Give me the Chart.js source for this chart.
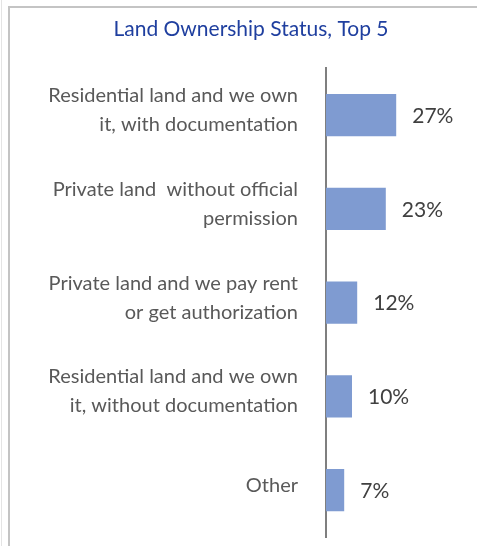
<!DOCTYPE html>
<html>
<head>
<meta charset="utf-8">
<script src="https://cdn.jsdelivr.net/npm/chart.js@4"></script>
<style>
  html, body { margin: 0; padding: 0; width: 477px; height: 546px; overflow: hidden; background: #fff; }
  #edge { position: absolute; left: 1px; top: 0; width: 1px; height: 546px; background: #e4e4e4; }
  #frame { position: absolute; left: 8px; top: 6px; width: 467px; height: 538px;
           border-left: 2px solid #c4c4c4; border-top: 2px solid #c4c4c4; }
  #frame canvas { display: block; }
</style>
</head>
<body>
<div id="edge"></div>
<div id="frame"><canvas id="landChart" width="467" height="538"></canvas></div>
<script>
// Land ownership status, top 5 answers (share of respondents, %)
const categories = [
    ['Residential land and we own', 'it, with documentation'],
    ['Private land  without official', 'permission'],
    ['Private land and we pay rent', 'or get authorization'],
    ['Residential land and we own', 'it, without documentation'],
    'Other'
];
const shares = [27, 23, 12, 10, 7];
const chartTitle = 'Land Ownership Status, Top 5';

// draw the "27%" style labels after the bars
const valueLabels = {
    id: 'valueLabels',
    afterDatasetsDraw(chart) {
        const ctx = chart.ctx;
        const meta = chart.getDatasetMeta(0);
        ctx.save();
        ctx.font = '21px Lato';
        ctx.fillStyle = '#404040';
        ctx.textAlign = 'left';
        ctx.textBaseline = 'middle';
        meta.data.forEach((bar, i) => {
            ctx.fillText(shares[i] + '%', bar.x + 16, bar.y + 1);
        });
        ctx.restore();
    }
};

const ctx = document.getElementById('landChart').getContext('2d');
new Chart(ctx, {
    type: 'bar',
    data: {
        labels: categories,
        datasets: [{ data: shares, backgroundColor: '#7f9bd1', borderWidth: 0,
                     categoryPercentage: 1, barPercentage: 0.45 }]
    },
    options: {
        indexAxis: 'y',
        responsive: false,
        animation: false,
        // left padding shifts the title centre to match the (wider) original box
        layout: { padding: { left: 23, right: 8, top: 0, bottom: 9 } },
        plugins: {
            legend: { display: false },
            tooltip: { enabled: false },
            title: {
                display: true, text: chartTitle, color: '#1f3f9f',
                font: { family: 'Lato', size: 21, weight: 'normal', lineHeight: 1.2 },
                padding: { top: 9, bottom: 26 }
            }
        },
        scales: {
            x: { display: false, min: 0, max: 55 },
            y: {
                afterFit(scale) {
                    scale.width = 293;
                    scale.paddingTop = 0;
                    scale.paddingBottom = 0;
                },
                grid: { display: false },
                border: { display: true, color: '#7f7f7f', width: 2 },
                ticks: { color: '#595959', padding: 20, labelOffset: -5,
                         font: { family: 'Lato', size: 20, lineHeight: 1.45 } }
            }
        }
    },
    plugins: [valueLabels]
});
</script>
</body>
</html>
